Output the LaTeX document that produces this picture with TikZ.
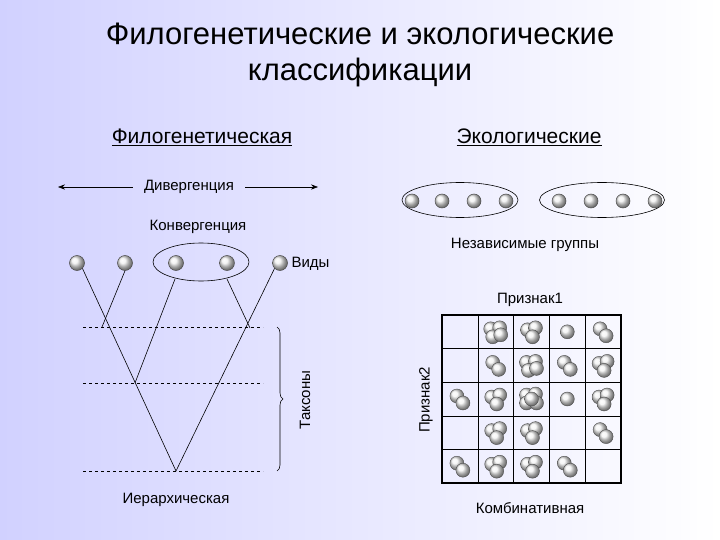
\documentclass[tikz,border=0pt]{standalone}
\usepackage{fontspec}
\setmainfont{Liberation Sans}
\usetikzlibrary{decorations.pathreplacing,shapes.geometric,arrows.meta}
\begin{document}
\begin{tikzpicture}[x=1pt,y=-1pt,
  ball/.style={circle,draw=black!70,line width=0.5pt,inner sep=0pt,minimum size=14pt,shading=ball,ball color=gray!12},
  gball/.style={circle,draw=black!70,line width=0.5pt,inner sep=0pt,minimum size=15pt,shading=ball,ball color=gray!12},
  lbl/.style={font=\fontsize{15}{17}\selectfont},
  dsh/.style={dashed,line width=0.5pt},
  br/.style={line width=0.6pt}]
\shade[left color=blue!18!white,right color=white] (0,0) rectangle (720,540);
\useasboundingbox (0,0) rectangle (720,540);
\node (t) at (360,55) [align=center,font=\fontsize{31}{36}\selectfont] {Филогенетические и экологические\\классификации};
\node (h1) at (202,137) [font=\fontsize{21}{24}\selectfont] {\underline{Филогенетическая}};
\node (h2) at (529,137) [font=\fontsize{21}{24}\selectfont] {\underline{Экологические}};
\node (dv) at (189,187) [lbl] {Дивергенция};
\coordinate (al) at (58,187); \coordinate (ar) at (318,187);
\draw[-{Stealth[length=7pt]},br] ([xshift=-8pt]dv.west) -- (al);
\draw[-{Stealth[length=7pt]},br] ([xshift=8pt]dv.east) -- (ar);
\node (kv) at (198,227) [lbl] {Конвергенция};
\node (ng) at (525,245) [lbl] {Независимые группы};
% ecological groups
\node (e1) at (460,200) [draw,ellipse,minimum width=116pt,minimum height=35pt,br] {};
\node (e2) at (602,200) [draw,ellipse,minimum width=125pt,minimum height=35pt,br] {};
\foreach \x/\n in {412/a,442/b,474/c,506/d,559/e,591/f,623/g,655/h}
  \node (q\n) at (\x,201) [ball] {};
% tree
\node (ev) at (201,262) [draw,ellipse,minimum width=96pt,minimum height=38pt,br] {};
\foreach \x/\n in {77/1,125/2,176/3,227/4,280/5}
  \node (s\n) at (\x,263) [gball] {};
\node (vd) at (288,264) [lbl,anchor=west] {Виды};
\coordinate (root) at (176,471);
\coordinate (j1) at (102,327);
\coordinate (j2) at (135,383);
\coordinate (j3) at (250,328);
\draw[br] (s1.south east) -- (root) -- (s5.south west);
\draw[br] (s2.south) -- (j1);
\draw[br] (175,279) -- (j2);
\draw[br] (227,279) -- (j3);
\foreach \y/\n in {327/a,383/b,471/c}{
  \coordinate (dl\n) at (83,\y); \coordinate (dr\n) at (263,\y);
  \draw[dsh] (dl\n) -- (dr\n);}
\coordinate (b1) at (277,327); \coordinate (b2) at (277,471);
\draw[br,decorate,decoration={brace,amplitude=6pt}] (b1) -- (b2);
\node (tx) at (305,400) [lbl,rotate=90] {Таксоны};
\node (ih) at (176,500) [lbl] {Иерархическая};
% grid
\foreach \i in {1,2,3,4}{
  \draw[line width=0.6pt] ({442+35.8*\i},315) -- ({442+35.8*\i},483);
  \draw[line width=0.6pt] (442,{315+33.6*\i}) -- (621,{315+33.6*\i});}
\node (gr) at (531.5,399) [draw,line width=1.6pt,minimum width=179pt,minimum height=168pt,inner sep=0pt] {};
\node (p1) at (530,300) [lbl] {Признак1};
\node (p2) at (426,400) [lbl,rotate=90] {Признак2};
\node (kb) at (530,508) [lbl] {Комбинативная};
\tikzset{sb/.style={circle,draw=black!70,line width=0.4pt,inner sep=0pt,minimum size=14pt,shading=ball,ball color=gray!10}}
\def\cl#1#2#3{%
  \pgfmathsetmacro\cx{442+35.8*(#1-0.5)}\pgfmathsetmacro\cy{315+33.6*(#2-0.5)}
  \ifcase#3\or
    \node[sb] at (\cx,\cy) {};
  \or
    \node[sb] at (\cx-3,\cy-3) {};\node[sb] at (\cx+3,\cy+4) {};
  \or
    \node[sb] at (\cx-4,\cy-2) {};\node[sb] at (\cx+4,\cy-4) {};\node[sb] at (\cx+1,\cy+5) {};
  \or
    \node[sb] at (\cx-5,\cy-3) {};\node[sb] at (\cx+4,\cy-4) {};\node[sb] at (\cx-3,\cy+5) {};\node[sb] at (\cx+5,\cy+3) {};
  \else
    \node[sb] at (\cx-5,\cy-4) {};\node[sb] at (\cx+4,\cy-5) {};\node[sb] at (\cx-5,\cy+4) {};\node[sb] at (\cx+5,\cy+4) {};\node[sb] at (\cx,\cy) {};
  \fi}
\foreach \c/\r/\n in {2/1/4,3/1/3,4/1/1,5/1/2,
  2/2/2,3/2/4,4/2/2,5/2/3,
  1/3/2,2/3/3,3/3/5,4/3/1,5/3/3,
  2/4/3,3/4/3,5/4/2,
  1/5/2,2/5/3,3/5/3,4/5/2}{\cl{\c}{\r}{\n}}
\end{tikzpicture}
\end{document}
